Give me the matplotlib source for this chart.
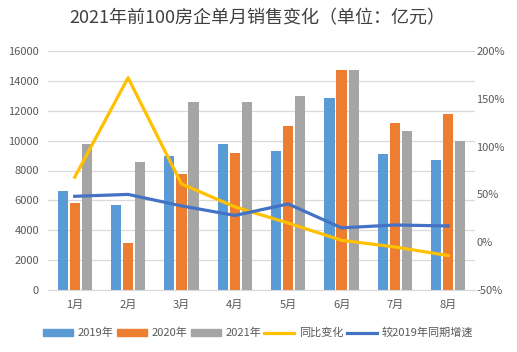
import matplotlib
matplotlib.use("Agg")
import matplotlib.pyplot as plt
import numpy as np
from matplotlib.patches import Patch
from matplotlib.lines import Line2D

plt.rcParams['font.family'] = ['Noto Sans CJK SC', 'DejaVu Sans']

months = ['1月', '2月', '3月', '4月', '5月', '6月', '7月', '8月']
sales_2019 = [6600, 5700, 9000, 9800, 9300, 12850, 9100, 8700]
sales_2020 = [5800, 3150, 7750, 9200, 11000, 14700, 11150, 11750]
sales_2021 = [9800, 8550, 12600, 12600, 13000, 14700, 10650, 10000]
yoy_change = [68, 172, 61, 37, 20, 2, -5, -14]
vs_2019 = [48, 50, 38, 28, 40, 15, 18, 17]

c19, c20, c21 = '#5B9BD5', '#ED7D31', '#A5A5A5'
cy, cb = '#FFC000', '#4472C4'
tick_col = '#595959'

fig = plt.figure(figsize=(5.17, 3.52), dpi=100)
ax = fig.add_axes([48/517, 1-290/352, (475-48)/517, (290-51)/352])
x = np.arange(len(months))
w = 0.19
step = 0.225
ax.bar(x - step, sales_2019, w, color=c19, zorder=2)
ax.bar(x, sales_2020, w, color=c20, zorder=2)
ax.bar(x + step, sales_2021, w, color=c21, zorder=2)
ax.set_xlim(-0.5, len(months) - 0.5)
ax.set_ylim(0, 16000)
ax.set_yticks(range(0, 16001, 2000))
ax.grid(axis='y', color='#D9D9D9', linewidth=0.9, zorder=0)
ax.set_axisbelow(True)
for s in ['top', 'right', 'left']:
    ax.spines[s].set_visible(False)
ax.spines['bottom'].set_color('#D9D9D9')
ax.set_xticks(x)
ax.set_xticklabels(months)
ax.tick_params(axis='both', length=0, colors=tick_col, labelsize=8)
ax.tick_params(axis='x', pad=7)
ax.tick_params(axis='y', pad=6.5)

ax2 = ax.twinx()
ax2.plot(x, yoy_change, color=cy, linewidth=2.3, zorder=3)
ax2.plot(x, vs_2019, color=cb, linewidth=2.3, zorder=3)
ax2.set_ylim(-50, 200)
ax2.set_yticks(range(-50, 201, 50))
ax2.set_yticklabels([f'{v}%' for v in range(-50, 201, 50)])
for s in ['top', 'right', 'left', 'bottom']:
    ax2.spines[s].set_visible(False)
ax2.tick_params(axis='y', length=0, colors=tick_col, labelsize=8, pad=1)

fig.text(257/517, 1-18/352, '2021年前100房企单月销售变化（单位：亿元）', ha='center', va='center',
         fontsize=13, color='#404040')

handles = [Patch(color=c19), Patch(color=c20), Patch(color=c21),
           Line2D([], [], color=cy, linewidth=2.3), Line2D([], [], color=cb, linewidth=2.3)]
labels = ['2019年', '2020年', '2021年', '同比变化', '较2019年同期增速']
leg = fig.legend(handles, labels, loc='center', bbox_to_anchor=(258/517, 1-333/352), ncol=5,
                 frameon=False, fontsize=8, handlelength=2.7, handleheight=0.55,
                 columnspacing=0.3, handletextpad=0.4)
for t in leg.get_texts():
    t.set_color(tick_col)

fig.savefig('out.png', dpi=100)
